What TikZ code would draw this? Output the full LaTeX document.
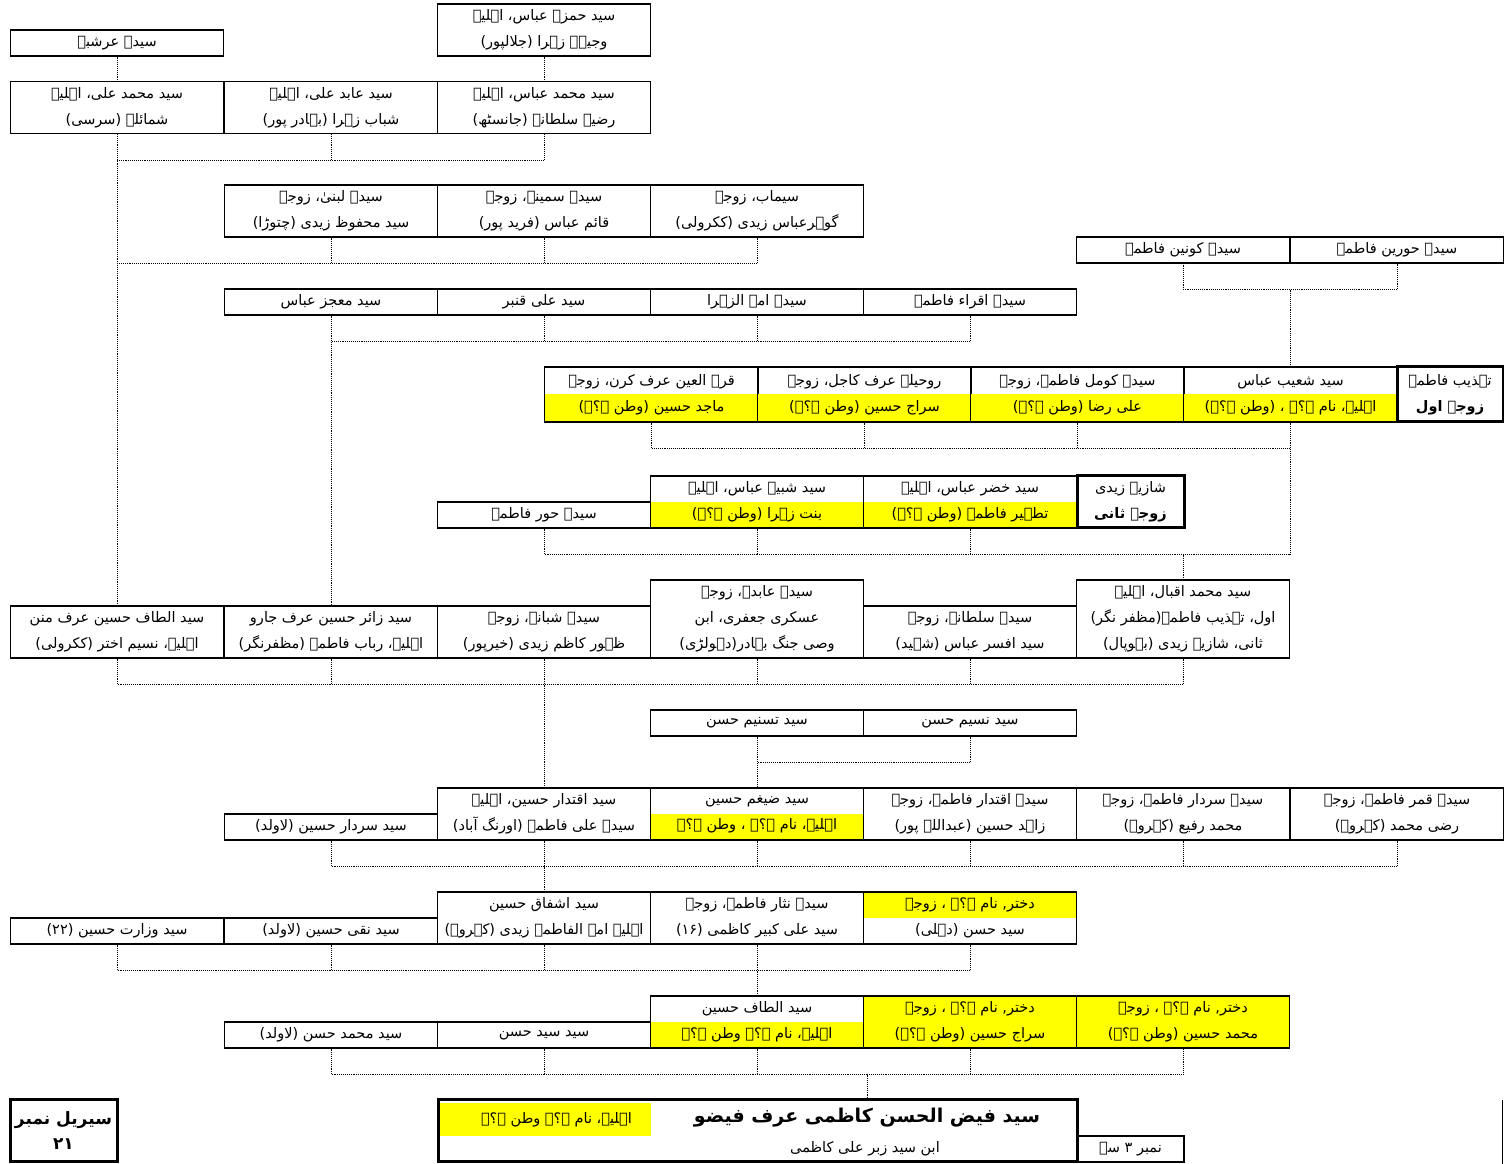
\documentclass[tikz,border=0pt]{standalone}
\usepackage{fontspec}
\setmainfont{DejaVu Sans}
\newfontfamily\urdu[Script=Arabic]{DejaVu Sans}
\usetikzlibrary{calc}
\TeXXeTstate=1
\definecolor{hiyel}{HTML}{FFFF00}
\newcommand\ur[1]{\beginR#1\endR}
\newcommand\cellfont{\fontsize{14.5}{26}\urdu}
\tikzset{
  cell/.style={
    draw, line width=1.1pt, minimum width=213.3pt, minimum height=26pt,
    inner sep=0pt, align=center, font=\cellfont
  },
  tworow/.style={cell, minimum height=52pt},
  threerow/.style={cell, minimum height=78pt},
  heavy/.style={line width=3pt},
  lowyel/.style={path picture={\fill[hiyel] (path picture bounding box.west)
    rectangle (path picture bounding box.south east);}},
  topyel/.style={path picture={\fill[hiyel] (path picture bounding box.west)
    rectangle (path picture bounding box.north east);}},
  fullyel/.style={fill=hiyel},
  link/.style={densely dotted, line width=0.9pt},
}

\begin{document}
\begin{tikzpicture}[x=1pt, y=1pt]
  \useasboundingbox (0,0) rectangle (1504,1164);
  \fill[white] (0,0) rectangle (1504,1164);

  % top rows
  \node[cell] (a1) at (117,1121) {\ur{سیدہ عرشبہ}};
  \node[tworow] (a2) at (544,1134) {\ur{سید حمزہ عباس، اہلیہ}\\\ur{وجیہہ زہرا (جلالپور)}};
  \node[tworow] (b1) at (117,1056.5) {\ur{سید محمد علی، اہلیہ}\\\ur{شمائلہ (سرسی)}};
  \node[tworow] (b2) at (331,1056.5) {\ur{سید عابد علی، اہلیہ}\\\ur{شباب زہرا (بہادر پور)}};
  \node[tworow] (b3) at (544,1056.5) {\ur{سید محمد عباس، اہلیہ}\\\ur{رضیہ سلطانہ (جانسٹھ)}};
  \node[tworow] (c1) at (331,953) {\ur{سیدہ لبنیٰ، زوجہ}\\\ur{سید محفوظ زیدی (چتوڑا)}};
  \node[tworow] (c2) at (544,953) {\ur{سیدہ سمینہ، زوجہ}\\\ur{قائم عباس (فرید پور)}};
  \node[tworow] (c3) at (757,953) {\ur{سیماب، زوجہ}\\\ur{گوہرعباس زیدی (ککرولی)}};
  \node[cell] (q1) at (1183,914) {\ur{سیدہ کونین فاطمہ}};
  \node[cell] (q2) at (1397,914) {\ur{سیدہ حورین فاطمہ}};
  \node[cell] (d1) at (331,862) {\ur{سید معجز عباس}};
  \node[cell] (d2) at (544,862) {\ur{سید علی قنبر}};
  \node[cell] (d3) at (757,862) {\ur{سیدہ امۃ الزہرا}};
  \node[cell] (d4) at (970,862) {\ur{سیدہ اقراء فاطمہ}};

  % first and second wife
  \node[cell, lowyel, minimum height=55pt] (e1) at (651.5,769.5) {\ur{قرۃ العین عرف کرن، زوجہ}\\\ur{ماجد حسین (وطن ۔؟۔)}};
  \node[cell, lowyel, minimum height=55pt] (e2) at (864.5,769.5) {\ur{روحیلہ عرف کاجل، زوجہ}\\\ur{سراج حسین (وطن ۔؟۔)}};
  \node[cell, lowyel, minimum height=55pt] (e3) at (1077.5,769.5) {\ur{سیدہ کومل فاطمہ، زوجہ}\\\ur{علی رضا (وطن ۔؟۔)}};
  \node[cell, lowyel, minimum height=55pt] (e4) at (1290.5,769.5) {\ur{سید شعیب عباس}\\\ur{اہلیہ، نام ۔؟۔ ، (وطن ۔؟۔)}};
  \node[cell, heavy, minimum width=106pt, minimum height=55pt] (e5) at (1450,769.5) {\ur{تہذیب فاطمہ}\\\ur{{\bfseries زوجہ اول}}};
  \node[cell] (f1) at (544,649) {\ur{سیدہ حور فاطمہ}};
  \node[tworow, lowyel] (f2) at (757,662) {\ur{سید شبیہ عباس، اہلیہ}\\\ur{بنت زہرا (وطن ۔؟۔)}};
  \node[tworow, lowyel] (f3) at (970,662) {\ur{سید خضر عباس، اہلیہ}\\\ur{تطہیر فاطمہ (وطن ۔؟۔)}};
  \node[tworow, heavy, minimum width=107pt] (f4) at (1130.5,662) {\ur{شازیہ زیدی}\\\ur{{\bfseries زوجۂ ثانی}}};

  % middle rows
  \node[tworow] (g1) at (117,532) {\ur{سید الطاف حسین عرف منن}\\\ur{اہلیہ، نسیم اختر (ککرولی)}};
  \node[tworow] (g2) at (331,532) {\ur{سید زائر حسین عرف جارو}\\\ur{اہلیہ، رباب فاطمہ (مظفرنگر)}};
  \node[tworow] (g3) at (544,532) {\ur{سیدہ شبانہ، زوجہ}\\\ur{ظہور کاظم زیدی (خیرپور)}};
  \node[threerow] (g4) at (757,545) {\ur{سیدہ عابدہ، زوجہ}\\\ur{عسکری جعفری، ابن}\\\ur{وصی جنگ بہادر(دہولڑی)}};
  \node[tworow] (g5) at (970,532) {\ur{سیدہ سلطانہ، زوجہ}\\\ur{سید افسر عباس (شہید)}};
  \node[threerow] (g6) at (1183,545) {\ur{سید محمد اقبال، اہلیہ}\\\ur{اول، تہذیب فاطمہ(مظفر نگر)}\\\ur{ثانی، شازیہ زیدی (بہوپال)}};
  \node[cell] (h1) at (757,441) {\ur{سید تسنیم حسن}};
  \node[cell] (h2) at (970,441) {\ur{سید نسیم حسن}};
  \node[cell] (i1) at (331,337) {\ur{سید سردار حسین (لاولد)}};
  \node[tworow] (i2) at (544,350) {\ur{سید اقتدار حسین، اہلیہ}\\\ur{سیدہ علی فاطمہ (اورنگ آباد)}};
  \node[tworow, lowyel] (i3) at (757,350) {\ur{سید ضیغم حسین}\\\ur{اہلیہ، نام ۔؟۔ ، وطن ۔؟۔}};
  \node[tworow] (i4) at (970,350) {\ur{سیدہ اقتدار فاطمہ، زوجہ}\\\ur{زاہد حسین (عبداللہ پور)}};
  \node[tworow] (i5) at (1183,350) {\ur{سیدہ سردار فاطمہ، زوجہ}\\\ur{محمد رفیع (کہروہ)}};
  \node[tworow] (i6) at (1397,350) {\ur{سیدہ قمر فاطمہ، زوجہ}\\\ur{رضی محمد (کہروہ)}};

  % lower rows
  \node[cell] (j1) at (117,233) {\ur{سید وزارت حسین (۲۲)}};
  \node[cell] (j2) at (331,233) {\ur{سید نقی حسین (لاولد)}};
  \node[tworow] (j3) at (544,246) {\ur{سید اشفاق حسین}\\\ur{اہلیہ امۃ الفاطمہ زیدی (کہروہ)}};
  \node[tworow] (j4) at (757,246) {\ur{سیدہ نثار فاطمہ، زوجہ}\\\ur{سید علی کبیر کاظمی (۱۶)}};
  \node[tworow, topyel] (j5) at (970,246) {\ur{دختر, نام ۔؟۔ ، زوجہ}\\\ur{سید حسن (دہلی)}};
  \node[cell] (k1) at (331,129) {\ur{سید محمد حسن (لاولد)}};
  \node[cell] (k2) at (544,129) {\ur{سید سید حسن}};
  \node[tworow, lowyel] (k3) at (757,142) {\ur{سید الطاف حسین}\\\ur{اہلیہ، نام ۔؟۔ وطن ۔؟۔}};
  \node[tworow, fullyel] (k4) at (970,142) {\ur{دختر, نام ۔؟۔ ، زوجہ}\\\ur{سراج حسین (وطن ۔؟۔)}};
  \node[tworow, fullyel] (k5) at (1183,142) {\ur{دختر, نام ۔؟۔ ، زوجہ}\\\ur{محمد حسین (وطن ۔؟۔)}};

  % root person
  \draw[heavy] (438,2) rectangle (1077,64);
  \coordinate (rootTop) at (867,64);
  \node[fill=hiyel, minimum width=211pt, minimum height=33pt, inner sep=0pt,
        font=\cellfont] (wife) at (545.5,44.5) {\hspace*{22pt}\ur{اہلیہ، نام ۔؟۔ وطن ۔؟۔}};
  \node[font=\fontsize{19}{22}\urdu\bfseries] (title) at (867,46) {\ur{سید فیض الحسن کاظمی عرف فیضو}};
  \node[font=\cellfont] (father) at (865,15) {\ur{ابن سید زبر علی کاظمی}};
  \node[cell, minimum width=107pt] (from) at (1130.5,15) {\ur{نمبر ۳ سے}};
  \node[cell, heavy, minimum width=107pt, minimum height=62pt,
        font=\fontsize{17}{25}\urdu\bfseries] (serial) at (63.5,33) {\ur{سیریل نمبر}\\\ur{۲۱}};
  \draw[line width=1.1pt] (1502.5,64) -- (1502.5,0);

  % connectors
  \draw[link] (a1.south) -- (b1.north);
  \draw[link] (a2.south) -- (b3.north);
  \draw[link] (b1.south) -- (g1.north);
  \draw[link] (b3.south) -- ++(0,-26) coordinate (busB) -- (busB -| b1.south);
  \draw[link] (b2.south) -- (b2.south |- busB);
  \draw[link] (c3.south) -- ++(0,-26) coordinate (busC) -- (busC -| g1.north);
  \draw[link] (c1.south) -- (c1.south |- busC);
  \draw[link] (c2.south) -- (c2.south |- busC);
  \draw[link] (q2.south) -- ++(0,-26) coordinate (busQ) -- (busQ -| q1.south) -- (q1.south);
  \draw[link] (busQ -| e4.north) -- (e4.north);
  \draw[link] (d1.south) -- (g2.north);
  \draw[link] (d4.south) -- ++(0,-26) coordinate (busD) -- (busD -| d1.south);
  \draw[link] (d2.south) -- (d2.south |- busD);
  \draw[link] (d3.south) -- (d3.south |- busD);
  \draw[link] (f1.south) -- ++(0,-26) coordinate (busF) -- (busF -| e4.south);
  \draw[link] (f2.south) -- (f2.south |- busF);
  \draw[link] (f3.south) -- (f3.south |- busF);
  \draw[link] (busF -| g6.north) -- (g6.north);
  \draw[link] (e1.south) -- ++(0,-26) coordinate (busE) -- (busE -| e4.south);
  \draw[link] (e2.south) -- (e2.south |- busE);
  \draw[link] (e3.south) -- (e3.south |- busE);
  \draw[link] (e4.south) -- (e4.south |- busF);
  \draw[link] (g1.south) -- ++(0,-26) coordinate (busG) -- (busG -| g6.south) -- (g6.south);
  \foreach \n in {g2,g3,g4,g5} \draw[link] (\n.south) -- (\n.south |- busG);
  \draw[link] (busG -| i2.north) -- (i2.north);
  \draw[link] (h1.south) -- (i3.north);
  \draw[link] (h2.south) -- ++(0,-26) coordinate (busH) -- (busH -| h1.south);
  \draw[link] (i1.south) -- ++(0,-26) coordinate (busI) -- (busI -| i6.south) -- (i6.south);
  \foreach \n in {i2,i3,i4,i5} \draw[link] (\n.south) -- (\n.south |- busI);
  \draw[link] (busI -| j3.north) -- (j3.north);
  \draw[link] (j1.south) -- ++(0,-26) coordinate (busJ) -- (busJ -| j5.south) -- (j5.south);
  \foreach \n in {j2,j3,j4} \draw[link] (\n.south) -- (\n.south |- busJ);
  \draw[link] (busJ -| k3.north) -- (k3.north);
  \draw[link] (k1.south) -- ++(0,-26) coordinate (busK) -- (busK -| k5.south) -- (k5.south);
  \foreach \n in {k2,k3,k4} \draw[link] (\n.south) -- (\n.south |- busK);
  \draw[link] (busK -| title.north) -- (rootTop);
\end{tikzpicture}
\end{document}
